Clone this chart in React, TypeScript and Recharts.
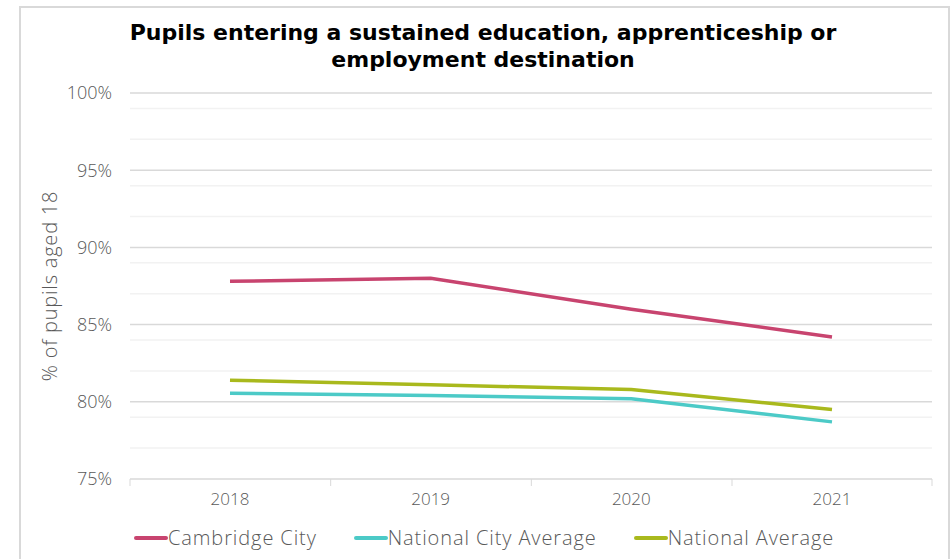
import { LineChart, Line, XAxis, YAxis, CartesianGrid, Legend } from 'recharts'

const years = ['2018', '2019', '2020', '2021']
const cambridgeCity = [87.8, 88.0, 86.0, 84.2]
const nationalCityAverage = [80.55, 80.4, 80.2, 78.7]
const nationalAverage = [81.4, 81.1, 80.8, 79.5]

const majorTicks = [75, 80, 85, 90, 95, 100]
const minorTicks = [76, 77, 78, 79, 81, 82, 83, 84, 86, 87, 88, 89, 91, 92, 93, 94, 96, 97, 98, 99]

const series = [
  { key: 'cambridge', name: 'Cambridge City', color: '#c8446f' },
  { key: 'nationalCity', name: 'National City Average', color: '#4ccac7' },
  { key: 'national', name: 'National Average', color: '#a9b91d' },
]

const data = years.map((year, i) => ({
  year,
  cambridge: cambridgeCity[i],
  nationalCity: nationalCityAverage[i],
  national: nationalAverage[i],
}))

const FONT = '"Open Sans", Lato, sans-serif'
const TITLE_FONT = '"DejaVu Sans", sans-serif'
const TEXT = '#595959'
const HALF_BAND = 100

function YearTick(props: any) {
  const { x, y, payload, index } = props
  const top = y - 8
  return (
    <g>
      <line x1={x - HALF_BAND} y1={top} x2={x - HALF_BAND} y2={top + 7} stroke="#d9d9d9" />
      {index === years.length - 1 && (
        <line x1={x + HALF_BAND} y1={top} x2={x + HALF_BAND} y2={top + 7} stroke="#d9d9d9" />
      )}
      <text x={x} y={y + 18} textAnchor="middle" fill={TEXT} fontSize={17} fontFamily={FONT} fontWeight={300}>
        {payload.value}
      </text>
    </g>
  )
}

function LegendContent() {
  return (
    <div style={{ display: 'flex', paddingLeft: 134, height: 30, alignItems: 'flex-start', fontFamily: FONT }}>
      {series.map((s) => (
        <div key={s.key} style={{ display: 'flex', alignItems: 'center', marginRight: 37, height: 20 }}>
          <div style={{ width: 34, height: 4, borderRadius: 2, background: s.color }} />
          <span style={{ fontSize: 20, color: TEXT, fontWeight: 300, lineHeight: '20px', letterSpacing: 0.9 }}>
            {s.name}
          </span>
        </div>
      ))}
    </div>
  )
}

export default function App() {
  return (
    <div style={{ position: 'absolute', left: 0, top: 0, width: 952, height: 559, overflow: 'hidden', background: '#fff' }}>
      <div
        style={{
          position: 'absolute',
          left: 19,
          top: 6,
          width: 927,
          height: 600,
          border: '2px solid #d9d9d9',
        }}
      />
      <div
        style={{
          position: 'absolute',
          left: 0,
          top: 19,
          width: 966,
          textAlign: 'center',
          fontFamily: TITLE_FONT,
          fontWeight: 700,
          fontSize: 22,
          lineHeight: '27px',
          color: '#000',
        }}
      >
        Pupils entering a sustained education, apprenticeship or
        <br />
        employment destination
      </div>
      <LineChart
        width={952}
        height={559}
        data={data}
        margin={{ top: 93, right: 20, bottom: 0, left: 0 }}
        style={{ position: 'absolute', left: 0, top: 0 }}
      >
        <CartesianGrid horizontalValues={minorTicks} vertical={false} stroke="#f2f2f2" strokeWidth={1.5} />
        <CartesianGrid horizontalValues={majorTicks.slice(1)} vertical={false} stroke="#d9d9d9" strokeWidth={1.5} />
        <XAxis
          dataKey="year"
          padding={{ left: HALF_BAND, right: HALF_BAND }}
          height={50}
          axisLine={{ stroke: '#d9d9d9', strokeWidth: 1.5 }}
          tickLine={false}
          tick={<YearTick />}
          interval={0}
        />
        <YAxis
          width={130}
          domain={[75, 100]}
          ticks={majorTicks}
          tickFormatter={(v: number) => `${v}%`}
          axisLine={false}
          tickLine={false}
          tickMargin={12}
          tick={{ fill: TEXT, fontSize: 18, fontFamily: FONT, fontWeight: 300 }}
          label={{
            value: '% of pupils aged 18',
            angle: -90,
            position: 'insideLeft',
            dx: 45,
            dy: 0,
            style: { textAnchor: 'middle', fill: TEXT, fontSize: 20, fontFamily: FONT, fontWeight: 300, letterSpacing: 0.8 },
          }}
        />
        <Legend
          verticalAlign="bottom"
          content={<LegendContent />}
          wrapperStyle={{ left: 0, width: 952, bottom: 'auto', top: 528 }}
        />
        {series.map((s) => (
          <Line
            key={s.key}
            dataKey={s.key}
            name={s.name}
            stroke={s.color}
            strokeWidth={3.5}
            dot={false}
            activeDot={false}
            isAnimationActive={false}
          />
        ))}
      </LineChart>
    </div>
  )
}
